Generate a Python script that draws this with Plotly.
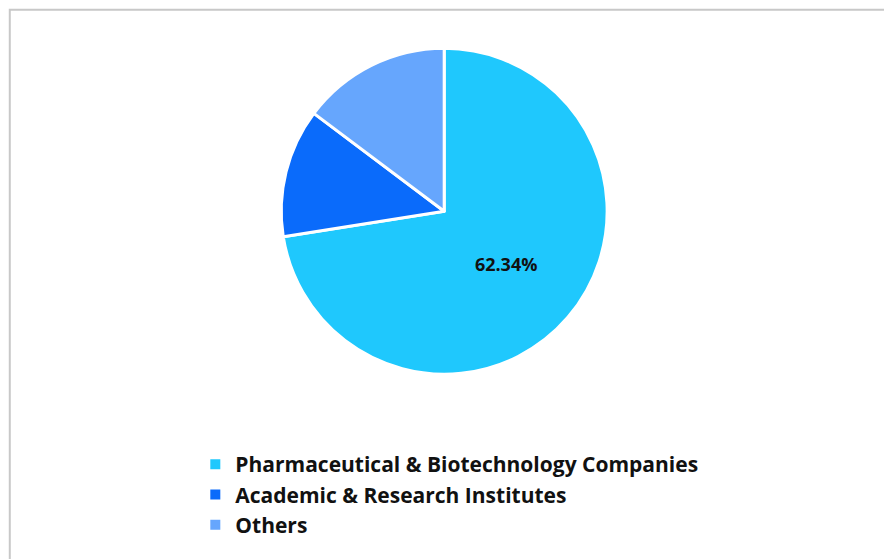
import plotly.graph_objects as go

labels = ["Pharmaceutical & Biotechnology Companies", "Academic & Research Institutes", "Others"]
values = [72.5, 12.75, 14.75]
shown_text = ["62.34%", "", ""]
colors = ["#1FC8FD", "#0A6BFB", "#66A6FD"]

fig = go.Figure(go.Pie(
    labels=labels,
    values=values,
    text=shown_text,
    textinfo="text",
    textposition="inside",
    insidetextorientation="horizontal",
    textfont=dict(family="Open Sans", size=18, color="#111111", weight="bold"),
    marker=dict(colors=colors, line=dict(color="white", width=3)),
    sort=False,
    direction="clockwise",
    rotation=0,
    domain=dict(x=[0.306, 0.672], y=[0.345, 0.928]),
    hole=0,
))

fig.update_layout(
    width=892, height=559,
    margin=dict(l=0, r=0, t=0, b=0),
    paper_bgcolor="white",
    legend=dict(
        x=0.21, y=0.22, xanchor="left", yanchor="top",
        font=dict(family="Open Sans", size=21, color="#111111", weight="bold"),
        itemsizing="constant",
    ),
    shapes=[dict(type="rect", xref="paper", yref="paper", x0=0.002, y0=0.003, x1=0.998, y1=0.997,
                 line=dict(color="#C8C8C8", width=2))],
)

fig.write_html("out.html")
